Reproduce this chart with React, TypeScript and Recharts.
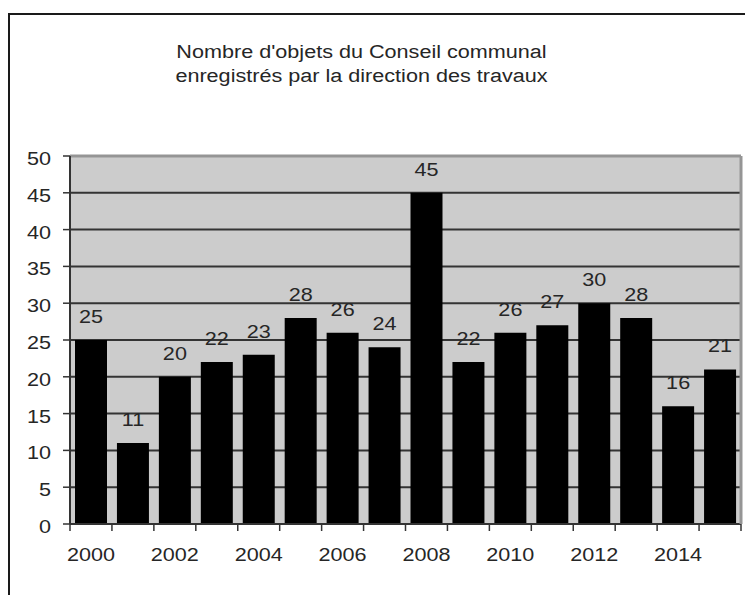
import {
  BarChart,
  Bar,
  XAxis,
  YAxis,
  CartesianGrid,
  ReferenceLine,
  LabelList,
} from 'recharts';

// Objets du Conseil communal enregistrés, par année
const YEARS = ['2000', '2001', '2002', '2003', '2004', '2005', '2006', '2007',
  '2008', '2009', '2010', '2011', '2012', '2013', '2014', '2015'];
const COUNTS = [25, 11, 20, 22, 23, 28, 26, 24, 45, 22, 26, 27, 30, 28, 16, 21];
const Y_TICKS = [0, 5, 10, 15, 20, 25, 30, 35, 40, 45, 50];
const TITLE_LINES = [
  "Nombre d'objets du Conseil communal",
  'enregistrés par la direction des travaux',
];

const FONT = '"Liberation Sans", Arial, Helvetica, sans-serif';
const INK = '#262626';
const STRETCH = 1.2;

const W = 737;
const H = 587;
const Y_AXIS_W = 62;
const RIGHT_AXIS_W = 4;
const X_AXIS_H = 50;
const MARGIN = { top: 148, right: 0, left: 0, bottom: 21 };
const PLOT_W = W - MARGIN.left - MARGIN.right - Y_AXIS_W - RIGHT_AXIS_W;
const HALF_BAND = PLOT_W / YEARS.length / 2;

const data = YEARS.map((year, i) => ({ year, count: COUNTS[i] }));

function YearTick(props: any) {
  const { x, y, payload, index } = props;
  const showLabel = Number(payload.value) % 2 === 0;
  const isLast = index === YEARS.length - 1;
  return (
    <g>
      <line x1={x - HALF_BAND} x2={x - HALF_BAND} y1={y - 7} y2={y} stroke="#333" strokeWidth={1.5} />
      {isLast && (
        <line x1={x + HALF_BAND} x2={x + HALF_BAND} y1={y - 7} y2={y} stroke="#333" strokeWidth={1.5} />
      )}
      {showLabel && (
        <text
          transform={`translate(${x},${y + 30}) scale(${STRETCH},1)`}
          textAnchor="middle"
          fontSize={18}
          fontFamily={FONT}
          fill={INK}
        >
          {payload.value}
        </text>
      )}
    </g>
  );
}

function ValueTick(props: any) {
  const { x, y, payload } = props;
  return (
    <text
      transform={`translate(${x},${y + 9}) scale(${STRETCH},1)`}
      textAnchor="end"
      fontSize={18}
      fontFamily={FONT}
      fill={INK}
    >
      {payload.value}
    </text>
  );
}

function BarValue(props: any) {
  const { x, y, width, value } = props;
  return (
    <text
      transform={`translate(${x + width / 2},${y - 17}) scale(${STRETCH},1)`}
      textAnchor="middle"
      fontSize={18}
      fontFamily={FONT}
      fill={INK}
    >
      {value}
    </text>
  );
}

export default function App() {
  return (
    <div style={{ position: 'relative', width: W, height: H, fontFamily: FONT }}>
      <div
        style={{
          position: 'absolute',
          left: 0,
          top: 5,
          width: 745,
          height: 590,
          boxSizing: 'border-box',
          borderTop: '2px solid #1a1a1a',
          borderLeft: '2px solid #1a1a1a',
        }}
      />
      <div
        style={{
          position: 'absolute',
          left: 0,
          top: 32,
          width: 707,
          textAlign: 'center',
          fontSize: 18,
          lineHeight: '24px',
          color: INK,
          transform: `scaleX(${STRETCH})`,
          transformOrigin: '353.5px 0',
        }}
      >
        {TITLE_LINES.map((line) => (
          <div key={line}>{line}</div>
        ))}
      </div>
      <div style={{ position: 'absolute', left: 0, top: 0 }}>
        <BarChart width={W} height={H} data={data} margin={MARGIN} barSize={32}>
          <CartesianGrid
            vertical={false}
            stroke="#333"
            strokeWidth={2}
            fill="#cccccc"
            fillOpacity={1}
          />
          <XAxis
            dataKey="year"
            height={X_AXIS_H}
            interval={0}
            tickSize={7}
            tickMargin={0}
            tickLine={false}
            axisLine={{ stroke: '#333', strokeWidth: 2 }}
            tick={<YearTick />}
          />
          <YAxis
            domain={[0, 50]}
            ticks={Y_TICKS}
            width={Y_AXIS_W}
            tickSize={7}
            tickMargin={12}
            tickLine={{ stroke: '#333', strokeWidth: 1.5 }}
            axisLine={{ stroke: '#333', strokeWidth: 2 }}
            tick={<ValueTick />}
          />
          <YAxis
            yAxisId="frame"
            orientation="right"
            domain={[0, 50]}
            width={RIGHT_AXIS_W}
            tick={false}
            tickLine={false}
            axisLine={{ stroke: '#959595', strokeWidth: 3 }}
          />
          <Bar dataKey="count" fill="#000" isAnimationActive={false}>
            <LabelList dataKey="count" content={<BarValue />} />
          </Bar>
          <ReferenceLine y={50} stroke="#959595" strokeWidth={3} />
        </BarChart>
      </div>
    </div>
  );
}
